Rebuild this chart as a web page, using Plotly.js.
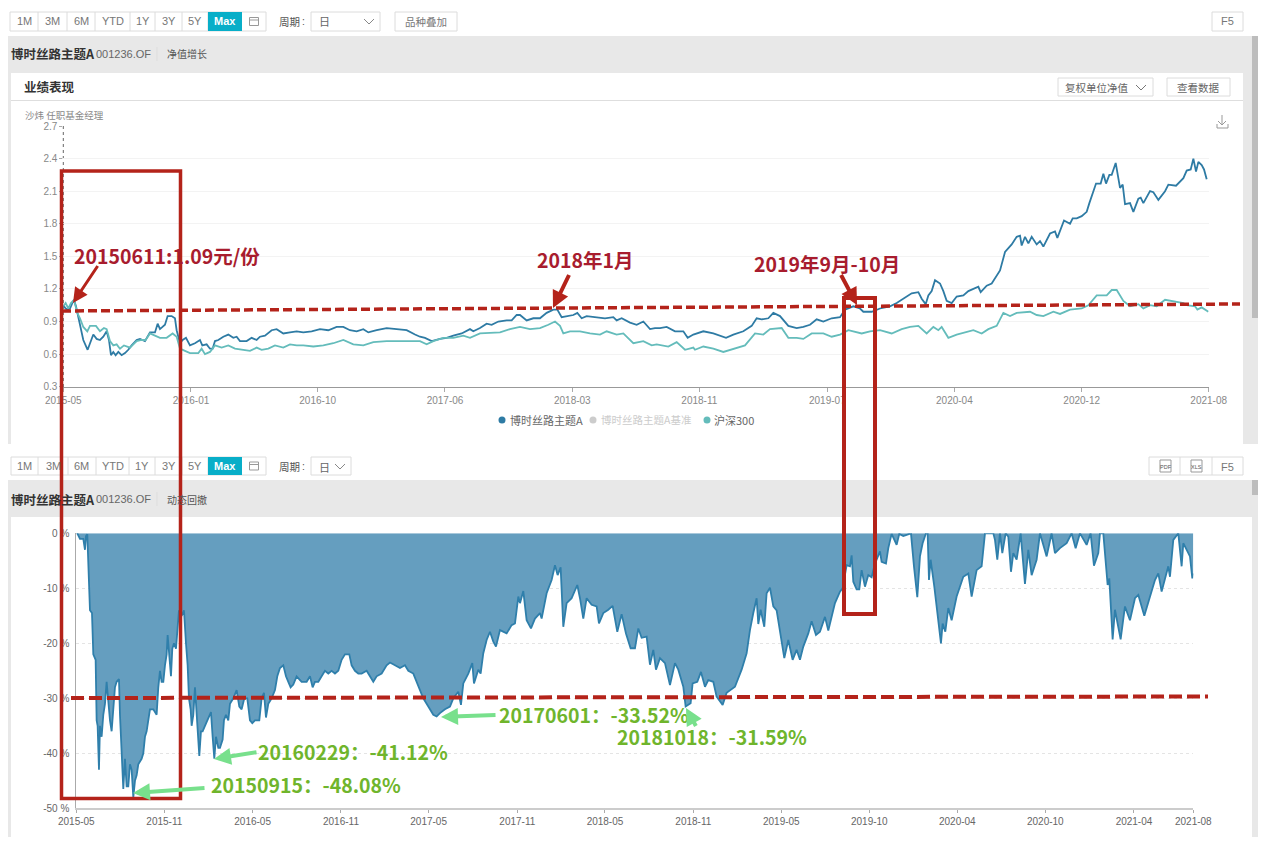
<!DOCTYPE html>
<html><head><meta charset="utf-8">
<script src="https://cdn.plot.ly/plotly-3.0.1.min.js"></script>
<style>html,body{margin:0;padding:0;background:#fff;overflow:hidden}</style>
</head><body><div id="chart" style="width:1267px;height:844px"></div>
<script>
// ---- DATA: axis position is along an evenly ticked trading-session axis ----
const navTickLabels = ['2015-05','2016-01','2016-10','2017-06','2018-03','2018-11','2019-07','2020-04','2020-12','2021-08'];
const navTickPos = [0,383,763,1145,1527,1908,2292,2673,3055,3436];
const navYTicks = [0.3,0.6,0.9,1.2,1.5,1.8,2.1,2.4,2.7];
const fundPos = [0,7,13,20,27,32,38,44,50,60,
 73,80,90,100,110,120,130,137,143,150,
 157,165,175,185,195,205,220,230,245,260,
 275,283,290,305,313,325,335,340,350,358,
 368,380,395,410,417,430,440,448,455,465,
 480,495,510,520,530,550,565,580,590,605,
 625,640,660,680,700,720,745,770,795,820,
 840,860,880,900,915,940,970,1000,1030,1055,
 1070,1085,1105,1130,1150,1170,1195,1220,1230,1250,
 1270,1285,1305,1330,1345,1360,1370,1390,1410,1430,
 1450,1470,1482,1495,1510,1530,1542,1555,1570,1600,
 1625,1650,1660,1675,1700,1720,1740,1760,1775,1790,
 1810,1835,1860,1873,1890,1920,1950,1988,2010,2040,
 2065,2080,2095,2115,2130,2150,2175,2200,2220,2240,
 2260,2280,2305,2330,2345,2370,2390,2400,2425,2450,
 2480,2500,2520,2545,2565,2575,2587,2595,2605,2615,
 2630,2640,2650,2665,2680,2700,2715,2745,2752,2770,
 2785,2800,2810,2825,2845,2860,2870,2875,2885,2895,
 2905,2920,2930,2940,2960,2975,2982,3002,3020,3028,
 3040,3055,3070,3078,3098,3112,3120,3128,3138,3145,
 3157,3170,3178,3185,3200,3210,3225,3232,3240,3260,
 3270,3285,3305,3315,3338,3360,3370,3382,3390,3398,
 3405,3415,3422,3430];
const fundNav = [1.05,1.02,1.01,1.02,1.07,1.10,1.04,.95,.85,.73,
 .64,.70,.78,.74,.73,.76,.81,.73,.59,.62,
 .59,.62,.59,.61,.64,.68,.73,.74,.72,.80,
 .80,.88,.83,.87,.95,.95,.93,.82,.70,.73,
 .75,.68,.70,.73,.68,.69,.65,.65,.72,.73,
 .76,.78,.75,.76,.72,.72,.75,.73,.76,.77,
 .82,.83,.79,.80,.81,.80,.81,.83,.82,.85,
 .85,.82,.81,.83,.80,.82,.84,.83,.82,.78,
 .76,.75,.72,.74,.75,.77,.79,.83,.81,.84,
 .88,.87,.90,.91,.91,.96,.96,.91,.93,.93,
 .98,1.01,1.01,.94,.95,.96,.98,.93,.95,.94,
 .93,.94,.91,.93,.89,.87,.90,.83,.84,.84,
 .85,.81,.81,.75,.78,.81,.79,.75,.78,.81,
 .86,.93,.92,.93,.98,.95,.86,.84,.85,.87,
 .92,.90,.93,.94,1.01,1.04,1.02,.99,.99,1.02,
 1.04,1.07,1.11,1.16,1.17,1.11,1.06,1.14,1.18,1.28,
 1.25,1.18,1.09,1.07,1.13,1.14,1.18,1.22,1.17,1.23,
 1.25,1.33,1.37,1.54,1.61,1.68,1.69,1.60,1.68,1.62,
 1.68,1.61,1.64,1.59,1.71,1.73,1.67,1.83,1.80,1.85,
 1.85,1.87,1.91,1.99,2.17,2.17,2.26,2.17,2.25,2.25,
 2.36,2.13,2.16,1.98,1.99,1.91,2.03,2.04,1.99,2.10,
 2.09,2.02,2.10,2.16,2.15,2.22,2.29,2.30,2.40,2.28,
 2.37,2.34,2.30,2.21];
const indexPos = [0,7,15,23,32,42,50,60,72,80,
 98,110,122,130,140,150,160,170,182,200,
 220,235,247,260,275,290,310,328,340,350,
 365,380,405,415,425,440,455,475,495,515,
 540,560,580,595,615,635,660,680,700,720,
 750,780,810,840,870,900,930,970,1000,1035,
 1070,1090,1110,1140,1170,1200,1220,1250,1310,1340,
 1370,1400,1430,1455,1475,1490,1500,1520,1550,1580,
 1610,1630,1660,1680,1710,1740,1765,1780,1815,1840,
 1865,1890,1895,1920,1950,1980,2010,2045,2075,2100,
 2120,2155,2175,2200,2220,2245,2280,2305,2330,2355,
 2395,2420,2450,2485,2515,2540,2565,2590,2610,2625,
 2635,2655,2680,2730,2755,2775,2800,2820,2840,2860,
 2900,2920,2940,2970,2990,3020,3055,3075,3100,3130,
 3145,3160,3180,3200,3225,3240,3260,3280,3305,3335,
 3360,3370,3395,3402,3415,3435];
const indexNav = [1.04,1.07,1.02,1.07,1.10,.98,.93,.85,.81,.86,
 .86,.81,.84,.83,.72,.68,.69,.65,.68,.66,
 .72,.73,.73,.79,.77,.75,.75,.79,.76,.65,
 .63,.61,.61,.65,.60,.62,.68,.66,.68,.65,
 .64,.63,.66,.64,.65,.68,.66,.69,.68,.68,
 .67,.68,.70,.73,.69,.68,.71,.72,.72,.72,
 .72,.69,.72,.75,.75,.77,.75,.79,.80,.83,
 .85,.83,.84,.87,.90,.86,.79,.81,.81,.79,
 .78,.81,.78,.79,.70,.72,.68,.69,.67,.71,
 .64,.66,.64,.67,.65,.62,.65,.68,.79,.78,
 .83,.84,.75,.75,.74,.79,.79,.76,.78,.82,
 .79,.81,.82,.79,.83,.85,.86,.79,.85,.82,
 .85,.75,.78,.82,.79,.83,.86,.98,.95,.98,
 .99,.96,.95,.99,.97,1.01,1.02,1.05,1.14,1.14,
 1.19,1.19,1.09,1.04,1.06,1.02,1.05,1.04,1.10,1.08,
 1.07,1.05,1.04,1.01,1.03,.99];
const ddTickLabels = ['2015-05','2015-11','2016-05','2016-11','2017-05','2017-11','2018-05','2018-11','2019-05','2019-10','2020-04','2020-10','2021-04','2021-08'];
const ddTickPos = [0,264,529,794,1057,1323,1586,1851,2115,2379,2643,2907,3173,3351];
const ddYTicks = [-50,-40,-30,-20,-10,0];
const ddPos = [0,3,11,21,26,29,33,36,41,47,
 51,58,61,64,68,71,76,81,86,91,
 96,101,106,111,116,121,128,131,136,141,
 146,151,156,161,166,171,176,181,186,196,
 201,206,211,216,221,231,241,246,251,256,
 261,266,271,274,279,284,288,293,299,303,
 308,316,323,329,334,338,343,346,351,356,
 361,366,369,374,379,386,393,399,404,409,
 414,419,426,431,439,443,449,456,461,471,
 481,489,496,504,513,521,528,536,549,556,
 563,569,576,586,596,603,611,621,629,636,
 643,651,661,676,691,701,709,716,726,736,
 746,756,766,776,786,796,806,819,826,836,
 846,856,871,881,891,901,916,931,941,956,
 971,986,996,1011,1021,1031,1041,1056,1071,1081,
 1091,1106,1121,1131,1146,1154,1161,1176,1188,1193,
 1206,1213,1221,1231,1241,1251,1259,1271,1291,1306,
 1316,1326,1331,1341,1351,1364,1376,1391,1396,1411,
 1426,1436,1444,1453,1461,1471,1486,1503,1511,1521,
 1531,1546,1561,1568,1581,1596,1609,1623,1636,1649,
 1663,1676,1686,1696,1711,1721,1731,1739,1751,1766,
 1781,1796,1806,1821,1828,1843,1849,1863,1874,1886,
 1896,1911,1921,1939,1951,1976,1996,2011,2021,2031,
 2041,2046,2053,2064,2071,2081,2091,2101,2111,2124,
 2136,2149,2161,2171,2181,2196,2206,2219,2231,2246,
 2256,2276,2291,2299,2311,2321,2326,2331,2341,2349,
 2356,2366,2376,2386,2396,2411,2416,2429,2436,2446,
 2461,2469,2481,2496,2504,2513,2523,2531,2539,2549,
 2554,2558,2563,2574,2586,2594,2599,2607,2616,2626,
 2641,2661,2676,2686,2701,2716,2726,2751,2756,2763,
 2771,2778,2788,2796,2804,2811,2821,2833,2846,2856,
 2866,2881,2891,2911,2926,2936,2951,2971,2986,2998,
 3011,3031,3043,3053,3066,3071,3081,3094,3099,3109,
 3116,3123,3133,3146,3161,3176,3186,3204,3221,3236,
 3246,3256,3276,3281,3291,3306,3316,3321,3341,3348,3351];
const ddPct = [0,0,-1,-1,-3,-.5,-.2,-6,-14,-14.5,
 -22,-23,-34,-35,-43,-35,-37,-33,-31,-27,
 -31,-34,-36,-31,-28,-27,-26.5,-33,-41,-46.5,
 -41,-46,-46,-42,-43,-48,-45,-44,-42,-41,
 -40,-37,-36,-34,-32,-32,-33,-28,-25,-27,
 -27,-24,-22,-18.5,-22.5,-26,-21,-20,-21,-18,
 -14,-15,-14,-20,-24,-30,-32,-35,-33,-28,
 -33,-36,-40.5,-36,-36,-35,-34,-33,-32.5,-37,
 -41,-37,-39,-39,-37.5,-34,-33,-34,-31,-30,
 -28.5,-31.5,-32,-30,-30,-34,-34.5,-34,-34,-30,
 -29,-33.5,-31,-30,-28.5,-26,-24.5,-24,-26,-27,
 -28,-27.5,-26,-27,-27,-26,-28,-27,-27,-26,
 -25,-25.5,-25,-25.5,-25,-23,-22,-22,-24,-25,
 -25.5,-25.5,-25,-26,-27,-26,-25.5,-24,-23.5,-24,
 -24.5,-24,-25,-25.5,-27,-28.5,-30,-31.5,-33,-33.3,
 -32.7,-32,-31.5,-30,-28.8,-31.2,-27.3,-25.5,-23.6,-27.3,
 -24.8,-25.5,-21.8,-19.4,-17.9,-19.7,-20.6,-17.6,-18.2,-16.7,
 -16.4,-11.5,-12.7,-10.5,-15.8,-17.3,-15.5,-14.5,-15.5,-10.9,
 -8.5,-5.8,-7.6,-6.2,-17,-12.7,-11.8,-9.4,-11.8,-15.5,
 -11.8,-13,-13.3,-16.4,-14.5,-13.9,-13.2,-17.9,-14.7,-18.2,
 -20.9,-20.9,-17.3,-19,-18.8,-23.9,-21.2,-24.8,-22.7,-23.6,
 -27.6,-23.6,-24.8,-27.9,-31.5,-30.9,-27.3,-27,-25.2,-27.9,
 -26.7,-27,-29.7,-31.2,-29,-27.9,-24.8,-21.8,-17.6,-14.5,
 -11.8,-16.5,-13.9,-17,-10.9,-9.9,-13.3,-14,-18.2,-22.7,
 -19.4,-23,-21.2,-23,-20.6,-18.2,-16,-18.5,-17.9,-15.2,
 -17.7,-12.7,-10.6,-10,-5.8,-6,-4,-8.8,-10.2,-10.2,
 -6.7,-9.7,-7.6,-8,-5.5,-3.3,-5.2,-5.5,-2.7,-.1,
 -2.1,-.1,-.5,-.1,0,-6,-11.6,-4.2,-1.8,0,
 0,-8.5,-4.8,-9.7,-16.4,-20,-16.4,-17.9,-13.6,-15.8,
 -11.5,-7.9,-7.3,-11.5,-6.7,-6,0,0,-1.2,-4.8,
 0,-3.6,0,-.6,-7,-3.6,-4.8,0,-9.2,-3,
 -7.6,-4.8,0,-4.2,0,-3.6,-2.7,-1.8,0,-2.7,
 0,-2.1,0,-5.9,-3.6,0,0,-9.4,-8.2,-19.3,
 -13.9,-16.4,-19.3,-13.3,-15.8,-11.8,-11.2,-15,-11.5,-8.5,
 -7.3,-10.6,-6,-7.9,-1.2,0,-6,-1.8,-4.2,-8.2,-7.3];
const rangeButtons = ['1M','3M','6M','YTD','1Y','3Y','5Y','Max'];

// ---- helpers (1267x844 page, zero margins) ----
const W=1267,H=844;
const FONT='"Liberation Sans","Noto Sans CJK SC",sans-serif';
const CJK='"Noto Sans CJK SC","Liberation Sans",sans-serif';
const fx=x=>x/W, fy=y=>1-y/H;
const shapes=[],annotations=[];
function box(x0,y0,x1,y1,fill,line,lw,layer){shapes.push({type:'rect',xref:'paper',yref:'paper',x0:fx(x0),x1:fx(x1),y0:fy(y0),y1:fy(y1),fillcolor:fill||'rgba(0,0,0,0)',line:{color:line||'rgba(0,0,0,0)',width:line?(lw||1):0},layer:layer||'below'});}
function seg(pts,color,lw,dash,layer){shapes.push({type:'path',xref:'paper',yref:'paper',path:pts.map((p,i)=>(i?'L ':'M ')+fx(p[0])+' '+fy(p[1])).join(' '),line:{color:color,width:lw,dash:dash||'solid'},layer:layer||'below'});}
function dot(x,y,r,c){shapes.push({type:'circle',xref:'paper',yref:'paper',x0:fx(x-r),x1:fx(x+r),y0:fy(y+r),y1:fy(y-r),fillcolor:c,line:{width:0},layer:'below'});}
function label(t,x,y,size,color,anchor,font){annotations.push({text:t,xref:'paper',yref:'paper',x:fx(x),y:fy(y),xanchor:anchor||'left',yanchor:'middle',showarrow:false,borderpad:0,borderwidth:0,font:{size:size,color:color,family:font||FONT}});}
function arrow(hx,hy,tx,ty,color,w,sz){annotations.push({text:' ',xref:'paper',yref:'paper',x:fx(hx),y:fy(hy),axref:'pixel',ayref:'pixel',ax:tx-hx,ay:ty-hy,showarrow:true,arrowhead:2,arrowsize:sz,arrowwidth:w,arrowcolor:color,standoff:0,startstandoff:0,font:{size:1}});}

const GREY='#e8e8e8',TXT='#777',BD='#dcdcdc';
// toolbar
function toolbar(y0,y1,edges){
  const yc=(y0+y1)/2;
  box(edges[0],y0,edges[edges.length-1],y1,'#fff',BD);
  rangeButtons.forEach((b,i)=>{
    if(b==='Max') box(edges[i],y0,edges[i+1],y1,'#08aec8');
    else seg([[edges[i+1],y0],[edges[i+1],y1]],BD,1);
    label(b==='Max'?'<b>Max</b>':b,(edges[i]+edges[i+1])/2,yc,11,b==='Max'?'#fff':TXT,'center');
  });
  const cx=(edges[8]+edges[9])/2;
  box(cx-4.5,yc-4,cx+4.5,yc+4,null,'#999',1);
  seg([[cx-4.5,yc-1.5],[cx+4.5,yc-1.5]],'#999',1);
  label('周期',279,yc,10.5,'#555','left',CJK);
  label(':',302,yc,10.5,'#555');
}
toolbar(12,31,[10,38,67,95,130,155,182,208,242,266]);
box(311,12,380,31,'#fff',BD);
label('日',319,21.5,11,'#666','left',CJK);
seg([[364,19],[369,24],[374,19]],'#888',1);
box(395,12,457,31,'#fff',BD);
label('品种叠加',426,21.5,10.5,TXT,'center',CJK);
box(1212,12,1243,31,'#fff',BD);
label('F5',1227.5,21.5,11,TXT,'center');
// top panel
box(8,36,1258,444,GREY);
box(1252,36,1258,318,'#bdbdbd');
box(11,73,1243,444,'#fff');
seg([[11,100.5],[1243,100.5]],'#dedede',1);
label('<b>博时丝路主题A</b>',11,54,12.5,'#333','left',CJK);
label('001236.OF',96.5,54,11,'#666');
seg([[157,47],[157,61]],'#ddd',1);
label('净值增长',167,54,10,'#555','left',CJK);
label('<b>业绩表现</b>',24,86,12.5,'#333','left',CJK);
box(1058,78,1153,96,'#fff',BD);
label('复权单位净值',1065,87,10.5,'#666','left',CJK);
seg([[1136,85],[1141,90],[1146,85]],'#777',1);
box(1167,78,1230,96,'#fff',BD);
label('查看数据',1198.5,87,10.5,'#666','center',CJK);
label('沙炜 任职基金经理',25,115,9.5,'#888','left',CJK);
seg([[1222,115],[1222,125]],'#999',1);
seg([[1218,121],[1222,125],[1226,121]],'#999',1);
seg([[1217,124],[1217,128],[1228,128],[1228,124]],'#999',1);
seg([[63.3,126],[63.3,387]],'#666',1,'dot');
// legend
dot(502,420,3.5,'#2e7ba4');label('博时丝路主题A',510,420,11,'#666','left',CJK);
dot(593,420,3.5,'#ccc');label('博时丝路主题A基准',601,420,10.5,'#ccc','left',CJK);
dot(707,420,3.5,'#64bcbb');label('沪深300',714,420,11,'#666','left',CJK);
// second toolbar
toolbar(457,475,[11,38,68,96,129,155,182,208,242,266]);
box(311,457,351,475,'#fff',BD);
label('日',319,466.5,11,'#666','left',CJK);
seg([[335,464],[340,469],[345,464]],'#888',1);
box(1149,457,1243,475,'#fff',BD);
seg([[1180,457],[1180,475]],BD,1);seg([[1212,457],[1212,475]],BD,1);
box(1160,460,1171,472,'#fff','#999',1);label('PDF',1165.5,466.5,5.5,'#555','center');
box(1191,460,1202,472,'#fff','#999',1);label('XLS',1196.5,466.5,5.5,'#555','center');
label('F5',1227.5,466.5,11,TXT,'center');
// bottom panel
box(8,480,1258,837,GREY);
box(1252,480,1258,495,'#bdbdbd');
box(11,517,1252,837,'#fff');
label('<b>博时丝路主题A</b>',11,499,12.5,'#333','left',CJK);
label('001236.OF',96.5,499,11,'#666');
seg([[157,492],[157,506]],'#ddd',1);
label('动态回撤',167,499,10,'#555','left',CJK);
// overlay marks
const RED='#b4231a',TITLE='#a81c2e',LIME='#6fb52c',MINT='#78e08c';
box(61.5,171,180.5,798.5,null,RED,3.5,'above');
box(844,298,875,614,null,RED,4,'above');
seg([[62,311],[1240,304]],RED,3.5,'9px,4px','above');
seg([[71,698],[1208,696.5]],RED,4,'13px,5px','above');
label('<b>20150611:1.09元/份</b>',74,255,19.5,TITLE,'left',CJK);
label('<b>2018年1月</b>',537,260,19.5,TITLE,'left',CJK);
label('<b>2019年9月-10月</b>',754,263,19.5,TITLE,'left',CJK);
arrow(73,303,99,264,RED,3,1);
arrow(553,308,570,273,RED,4,0.85);
arrow(857,305,840,273,RED,4,0.85);
label('<b>20150915：-48.08%</b>',211,784,19.5,LIME,'left',CJK);
label('<b>20160229：-41.12%</b>',258,751,19.5,LIME,'left',CJK);
label('<b>20170601：-33.52%</b>',499,714,19.5,LIME,'left',CJK);
label('<b>20181018：-31.59%</b>',617,736,19.5,LIME,'left',CJK);
arrow(133,793,206,788,MINT,4,0.85);
arrow(214,759,258,752,MINT,4,0.85);
arrow(441,717,497,715,MINT,4,0.85);
arrow(686,708,697,728,MINT,4,0.85);

const traces=[
 {x:fundPos,y:fundNav,xaxis:'x',yaxis:'y',mode:'lines',name:'博时丝路主题A',line:{color:'#2e7ba4',width:1.8},hoverinfo:'skip'},
 {x:indexPos,y:indexNav,xaxis:'x',yaxis:'y',mode:'lines',name:'沪深300',line:{color:'#64bcbb',width:1.8},hoverinfo:'skip'},
 {x:ddPos,y:ddPct,xaxis:'x2',yaxis:'y2',mode:'lines',fill:'tozeroy',fillcolor:'#659ebf',name:'动态回撤',line:{color:'#2f7fab',width:1.8},hoverinfo:'skip'}
];
const axisFont={size:10,color:'#888',family:FONT};
const layout={
 width:W,height:H,margin:{l:0,r:0,t:0,b:0},paper_bgcolor:'#fff',plot_bgcolor:'rgba(0,0,0,0)',showlegend:false,
 font:{family:FONT},shapes:shapes,annotations:annotations,
 xaxis:{domain:[63.3/W,1208.7/W],range:[0,3436],tickmode:'array',tickvals:navTickPos,ticktext:navTickLabels,showgrid:false,zeroline:false,showline:true,linecolor:'#999',linewidth:1,ticks:'outside',ticklen:4,tickcolor:'#aaa',tickfont:axisFont,anchor:'y'},
 yaxis:{domain:[1-386.7/H,1-126/H],range:[0.3,2.7],tickmode:'array',tickvals:navYTicks,ticktext:navYTicks.map(v=>v.toFixed(1)),gridcolor:'#f3f3f3',zeroline:false,showline:false,ticks:'outside',ticklen:3,tickcolor:'#aaa',tickfont:axisFont,anchor:'x'},
 xaxis2:{domain:[76.3/W,1193.3/W],range:[0,3351],tickmode:'array',tickvals:ddTickPos,ticktext:ddTickLabels,showgrid:false,zeroline:false,showline:true,linecolor:'#ccc',linewidth:2,ticks:'outside',ticklen:3,tickcolor:'#aaa',tickfont:{size:10,color:'#666',family:FONT},anchor:'y2'},
 yaxis2:{domain:[1-808.3/H,1-533.3/H],range:[-50,0],tickmode:'array',tickvals:ddYTicks,ticktext:ddYTicks.map(v=>v+' %'),gridcolor:'#e4e4e4',griddash:'dot',zeroline:false,showline:true,linecolor:'#aaa',linewidth:1,ticks:'outside',ticklen:4,tickcolor:'rgba(0,0,0,0)',tickfont:{size:10,color:'#666',family:FONT},anchor:'x2'}
};
Plotly.newPlot('chart',traces,layout,{displayModeBar:false,responsive:false});
</script></body></html>
